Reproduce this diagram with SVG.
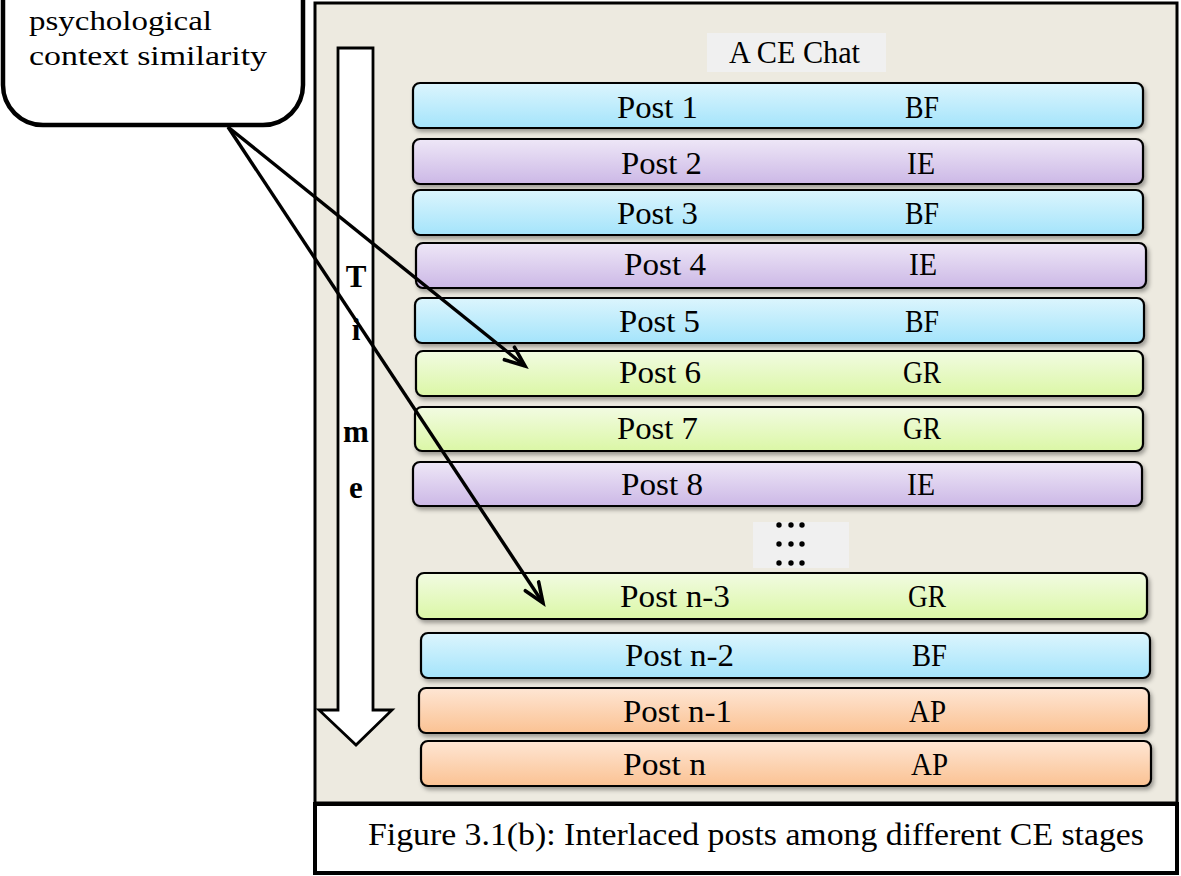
<svg xmlns="http://www.w3.org/2000/svg" width="1181" height="876" viewBox="0 0 1181 876">
<defs>
<linearGradient id="gBlue" x1="0" y1="0" x2="0" y2="1"><stop offset="0" stop-color="#dcf5fd"/><stop offset="1" stop-color="#a4e4fb"/></linearGradient>
<linearGradient id="gPurple" x1="0" y1="0" x2="0" y2="1"><stop offset="0" stop-color="#eee7f7"/><stop offset="1" stop-color="#ccb8e6"/></linearGradient>
<linearGradient id="gGreen" x1="0" y1="0" x2="0" y2="1"><stop offset="0" stop-color="#f2fbe2"/><stop offset="1" stop-color="#dbf7a6"/></linearGradient>
<linearGradient id="gOrange" x1="0" y1="0" x2="0" y2="1"><stop offset="0" stop-color="#fee6d4"/><stop offset="1" stop-color="#fbc293"/></linearGradient>
<filter id="sh" x="-5%" y="-30%" width="110%" height="170%"><feDropShadow dx="2" dy="3" stdDeviation="2" flood-color="#000" flood-opacity="0.35"/></filter>
<marker id="ah" markerUnits="userSpaceOnUse" markerWidth="30" markerHeight="30" viewBox="-25 -15 30 30" refX="0" refY="0" orient="auto"><path d="M-20,-8 L0,0 L-20,8" fill="none" stroke="#000" stroke-width="3.6" stroke-linecap="round" stroke-linejoin="miter"/></marker>
<style>
.row{stroke:#000;stroke-width:2.2;filter:url(#sh)}
.blue{fill:url(#gBlue)}
.purple{fill:url(#gPurple)}
.green{fill:url(#gGreen)}
.orange{fill:url(#gOrange)}
.t{font-family:"Liberation Serif","DejaVu Serif",serif;font-size:31px;fill:#000}
.tb{font-family:"Liberation Serif","DejaVu Serif",serif;font-size:31px;font-weight:bold;fill:#000;text-anchor:middle}
.conn{stroke:#000;stroke-width:3.4;fill:none;marker-end:url(#ah)}
</style>
</defs>

<g id="frame">
<rect x="315" y="3" width="862" height="800" fill="#edeae0" stroke="#000" stroke-width="3"/>
</g>

<g id="caption">
<rect x="315" y="804" width="862" height="69" fill="#fff" stroke="#000" stroke-width="4"/>
<text class="t" x="368" y="845" textLength="776" lengthAdjust="spacingAndGlyphs">Figure 3.1(b): Interlaced posts among different CE stages</text>
</g>

<g id="title">
<rect x="707" y="33" width="179" height="39" fill="#f0f0f0"/>
<text class="t" x="729" y="63" textLength="131" lengthAdjust="spacingAndGlyphs">A CE Chat</text>
</g>

<g id="time-arrow">
<polygon points="338,48 373,48 373,710 392,710 356,745 319,710 338,710" fill="#fff" stroke="#000" stroke-width="2.8"/>
<text class="tb" x="356" y="287">T</text>
<text class="tb" x="356" y="340">i</text>
<text class="tb" x="356" y="442">m</text>
<text class="tb" x="356" y="498">e</text>
</g>

<g id="post1"><rect class="row blue" x="413" y="83" width="730" height="45" rx="7"/><text class="t" x="617" y="118" textLength="81" lengthAdjust="spacingAndGlyphs">Post 1</text><text class="t" x="905" y="118" textLength="34" lengthAdjust="spacingAndGlyphs">BF</text></g>
<g id="post2"><rect class="row purple" x="413" y="139" width="730" height="45" rx="7"/><text class="t" x="621" y="174" textLength="81" lengthAdjust="spacingAndGlyphs">Post 2</text><text class="t" x="907" y="174" textLength="28" lengthAdjust="spacingAndGlyphs">IE</text></g>
<g id="post3"><rect class="row blue" x="413" y="190" width="730" height="45" rx="7"/><text class="t" x="617" y="224" textLength="81" lengthAdjust="spacingAndGlyphs">Post 3</text><text class="t" x="905" y="224" textLength="34" lengthAdjust="spacingAndGlyphs">BF</text></g>
<g id="post4"><rect class="row purple" x="416" y="243" width="730" height="45" rx="7"/><text class="t" x="624" y="275" textLength="82" lengthAdjust="spacingAndGlyphs">Post 4</text><text class="t" x="909" y="275" textLength="28" lengthAdjust="spacingAndGlyphs">IE</text></g>
<g id="post5"><rect class="row blue" x="415" y="298" width="729" height="45" rx="7"/><text class="t" x="619" y="332" textLength="81" lengthAdjust="spacingAndGlyphs">Post 5</text><text class="t" x="905" y="332" textLength="34" lengthAdjust="spacingAndGlyphs">BF</text></g>
<g id="post6"><rect class="row green" x="416" y="351" width="727" height="45" rx="7"/><text class="t" x="619" y="383" textLength="82" lengthAdjust="spacingAndGlyphs">Post 6</text><text class="t" x="903" y="383" textLength="38" lengthAdjust="spacingAndGlyphs">GR</text></g>
<g id="post7"><rect class="row green" x="415" y="407" width="728" height="44" rx="7"/><text class="t" x="617" y="439" textLength="81" lengthAdjust="spacingAndGlyphs">Post 7</text><text class="t" x="903" y="439" textLength="38" lengthAdjust="spacingAndGlyphs">GR</text></g>
<g id="post8"><rect class="row purple" x="413" y="462" width="729" height="44" rx="7"/><text class="t" x="621" y="495" textLength="82" lengthAdjust="spacingAndGlyphs">Post 8</text><text class="t" x="907" y="495" textLength="28" lengthAdjust="spacingAndGlyphs">IE</text></g>

<g id="ellipsis">
<rect x="753" y="522" width="96" height="46" fill="#f0f0f0"/>
<g fill="#000">
<circle cx="779" cy="525" r="2.7"/><circle cx="791" cy="525" r="2.7"/><circle cx="802" cy="525" r="2.7"/>
<circle cx="779" cy="544" r="2.7"/><circle cx="791" cy="544" r="2.7"/><circle cx="802" cy="544" r="2.7"/>
<circle cx="779" cy="563" r="2.7"/><circle cx="791" cy="563" r="2.7"/><circle cx="802" cy="563" r="2.7"/>
</g>
</g>

<g id="postn3"><rect class="row green" x="417" y="573" width="730" height="46" rx="7"/><text class="t" x="620" y="607" textLength="110" lengthAdjust="spacingAndGlyphs">Post n-3</text><text class="t" x="908" y="607" textLength="38" lengthAdjust="spacingAndGlyphs">GR</text></g>
<g id="postn2"><rect class="row blue" x="421" y="633" width="729" height="45" rx="7"/><text class="t" x="625" y="666" textLength="109" lengthAdjust="spacingAndGlyphs">Post n-2</text><text class="t" x="912" y="666" textLength="35" lengthAdjust="spacingAndGlyphs">BF</text></g>
<g id="postn1"><rect class="row orange" x="419" y="688" width="730" height="45" rx="7"/><text class="t" x="623" y="722" textLength="109" lengthAdjust="spacingAndGlyphs">Post n-1</text><text class="t" x="909" y="722" textLength="37" lengthAdjust="spacingAndGlyphs">AP</text></g>
<g id="postn"><rect class="row orange" x="421" y="741" width="730" height="45" rx="7"/><text class="t" x="623" y="775" textLength="83" lengthAdjust="spacingAndGlyphs">Post n</text><text class="t" x="911" y="775" textLength="37" lengthAdjust="spacingAndGlyphs">AP</text></g>

<g id="callout">
<rect x="3" y="-60" width="300" height="185" rx="40" fill="#fff" stroke="#000" stroke-width="4.5"/>
<text class="t" x="29" y="30" style="font-size:27px" textLength="183" lengthAdjust="spacingAndGlyphs">psychological</text>
<text class="t" x="29" y="65" style="font-size:27px" textLength="238" lengthAdjust="spacingAndGlyphs">context similarity</text>
</g>

<g id="connectors">
<line class="conn" x1="228" y1="127" x2="525" y2="366"/>
<line class="conn" x1="228" y1="127" x2="543" y2="603"/>
</g>
</svg>
